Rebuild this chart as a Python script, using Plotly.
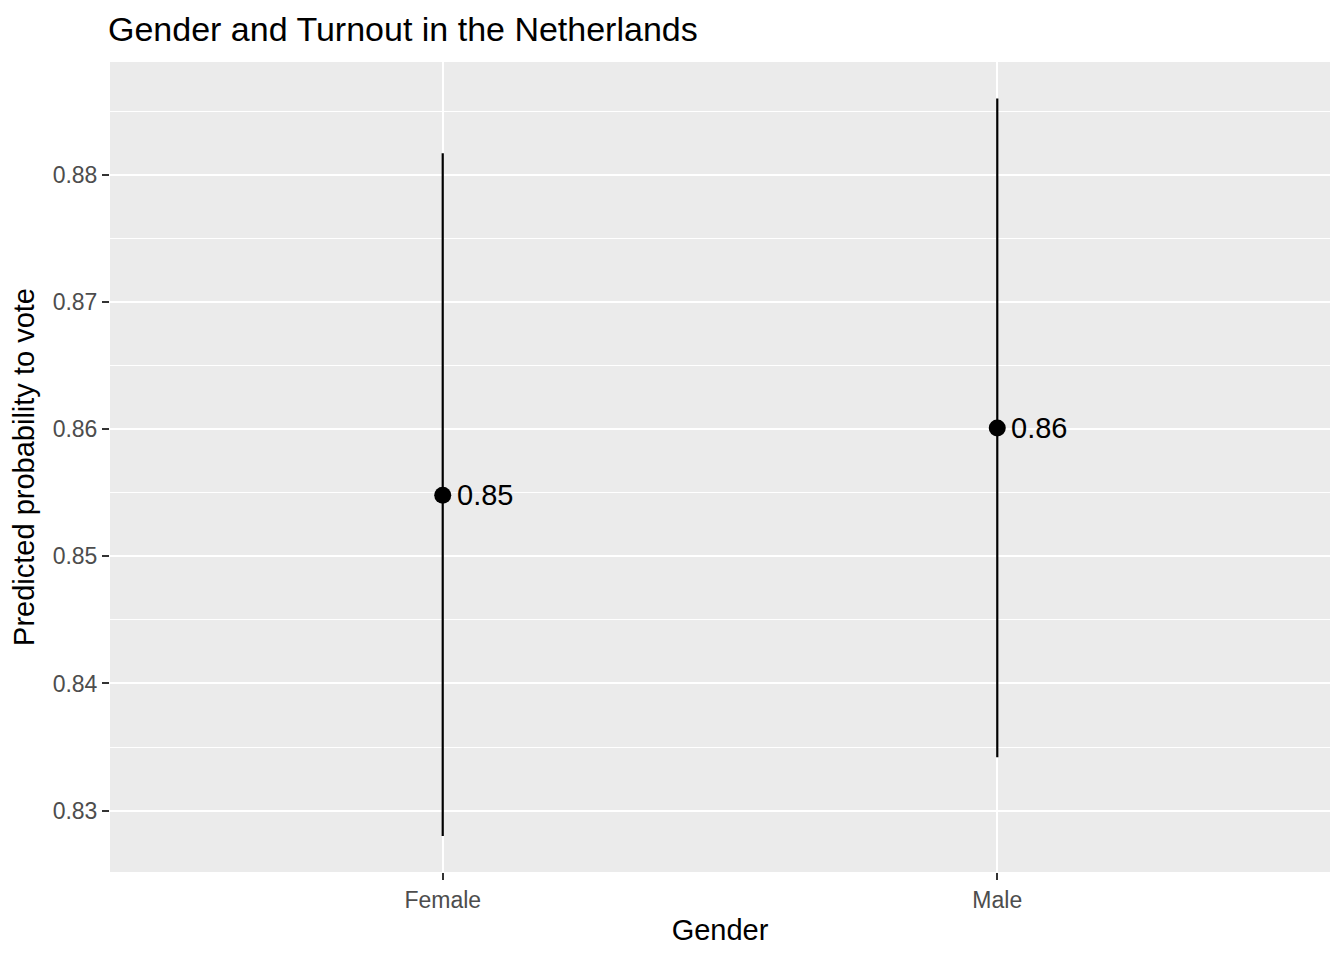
import plotly.graph_objects as go

# Data
categories = ["Female", "Male"]
predicted = [0.8548, 0.8601]
lower = [0.8280, 0.8342]
upper = [0.8817, 0.8860]
y_ticks = [0.83, 0.84, 0.85, 0.86, 0.87, 0.88]
y_minor = [0.825, 0.835, 0.845, 0.855, 0.865, 0.875, 0.885]

labels = [f"{v:.2f}" for v in predicted]

FONT = "Liberation Sans, Arial, sans-serif"
OFF = 8  # default page body margin

fig = go.Figure()
fig.add_trace(go.Scatter(
    x=categories,
    y=predicted,
    mode="markers",
    marker=dict(color="black", size=17),
    error_y=dict(
        type="data",
        symmetric=False,
        array=[u - p for u, p in zip(upper, predicted)],
        arrayminus=[p - l for p, l in zip(predicted, lower)],
        color="black",
        thickness=2.2,
        width=0,
    ),
    showlegend=False,
    hoverinfo="skip",
))

for c, v, t in zip(categories, predicted, labels):
    fig.add_annotation(
        x=c, y=v, text=t, showarrow=False,
        xanchor="left", yanchor="middle", xshift=12,
        font=dict(family=FONT, size=29, color="black"),
    )

fig.update_layout(
    width=1344, height=960,
    margin=dict(l=108 - OFF, r=14 + OFF, t=62 - OFF, b=88 + OFF),
    paper_bgcolor="white",
    plot_bgcolor="#EBEBEB",
    font=dict(family=FONT, color="black"),
    title=dict(
        text="Gender and Turnout in the Netherlands",
        x=(108 - OFF) / 1344, xanchor="left", xref="container",
        y=1 - (29 - OFF) / 960, yanchor="middle", yref="container",
        font=dict(family=FONT, size=34, color="black"),
    ),
    xaxis=dict(
        type="category",
        categoryorder="array", categoryarray=categories,
        range=[-0.6, 1.6],
        showgrid=True, gridcolor="white", gridwidth=2.2,
        zeroline=False, showline=False,
        ticks="outside", ticklen=7, tickwidth=2, tickcolor="#333333",
        tickfont=dict(family=FONT, size=23, color="#4D4D4D"),
        title=dict(text="Gender", font=dict(family=FONT, size=29, color="black"), standoff=8),
    ),
    yaxis=dict(
        range=[0.82517, 0.88888],
        tickvals=y_ticks,
        ticktext=[f"{v:.2f}" for v in y_ticks],
        showgrid=True, gridcolor="white", gridwidth=2.2,
        minor=dict(tickvals=y_minor, showgrid=True, gridcolor="white", gridwidth=1.1, ticks=""),
        zeroline=False, showline=False,
        ticks="outside", ticklen=7, tickwidth=2, tickcolor="#333333",
        tickfont=dict(family=FONT, size=23, color="#4D4D4D"),
        title=dict(text="Predicted probability to vote", font=dict(family=FONT, size=29, color="black"), standoff=12),
    ),
)

fig.write_html("out.html")
